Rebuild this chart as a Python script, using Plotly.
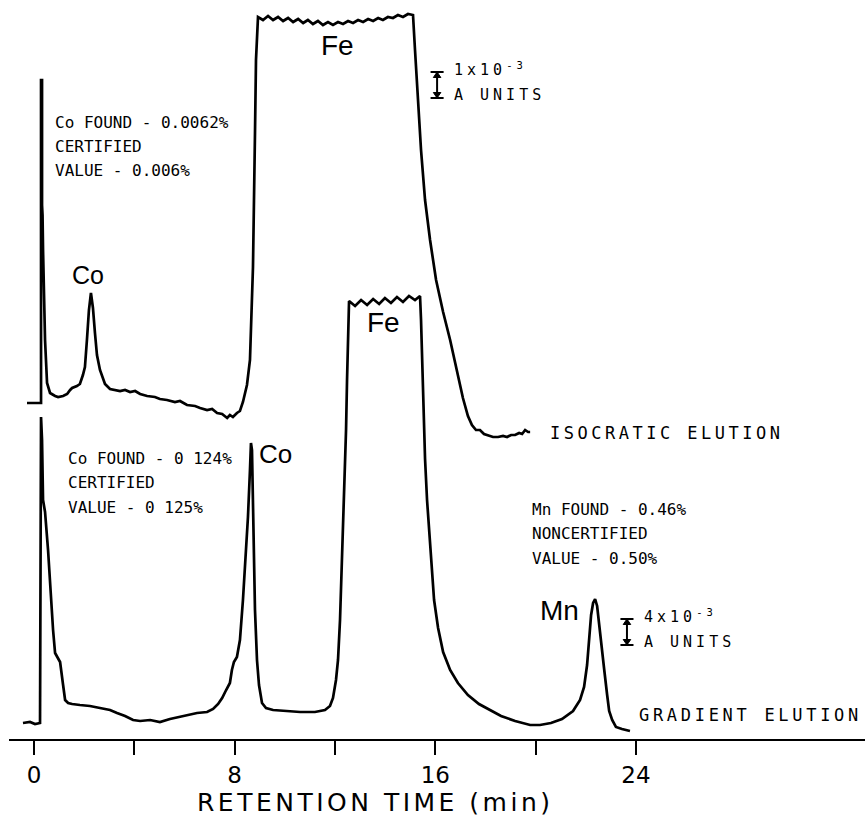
import plotly.graph_objects as go

# ---------------- data ----------------
# retention time (min) and detector signal (arbitrary chart units, offset traces)
iso_time = [-0.28, 0.24, 0.28, 0.28, 0.32, 0.32, 0.34, 0.36, 0.40, 0.44, 0.52, 0.64, 0.84, 0.96,
            1.16, 1.32, 1.44, 1.52, 1.71, 1.83, 1.95, 2.03, 2.11, 2.19, 2.27, 2.35, 2.43, 2.51,
            2.63, 2.83, 3.03, 3.23, 3.43, 3.63, 3.83, 4.03, 4.23, 4.51, 4.82, 5.02, 5.30, 5.62,
            5.82, 6.10, 6.42, 6.62, 6.90, 7.10, 7.30, 7.50, 7.70, 7.81, 7.93, 8.09, 8.21, 8.33,
            8.49, 8.61, 8.69, 8.73, 8.81, 8.85,
            8.93, 9.13, 9.33, 9.53, 9.73, 9.93, 10.13, 10.33, 10.53, 10.73, 10.92, 11.12, 11.32,
            11.52, 11.72, 11.92, 12.12, 12.32, 12.52, 12.72, 12.92, 13.12, 13.32, 13.52, 13.72,
            13.91, 14.11, 14.31, 14.51, 14.71, 14.91, 15.11,
            15.19, 15.31, 15.43, 15.59, 15.79, 16.03, 16.31, 16.59, 16.86, 17.10, 17.30, 17.46,
            17.62, 17.78, 17.94, 18.10, 18.30, 18.50, 18.70, 18.86, 19.02, 19.18, 19.34, 19.46,
            19.58, 19.70, 19.78]
iso_signal = [33.6, 33.6, 33.6, 65.9, 65.9, 53.4, 52.4, 48.9, 43.9, 39.9, 35.6, 34.6, 34.3, 34.2,
              34.3, 34.5, 34.9, 35.1, 35.3, 35.5, 36.4, 37.2, 39.9, 42.9, 44.6, 43.1, 40.6, 38.4,
              36.9, 35.5, 35.0, 34.9, 34.8, 34.9, 34.7, 34.8, 34.5, 34.3, 34.2, 34.0, 33.9, 33.7,
              33.8, 33.4, 33.3, 33.1, 32.9, 33.0, 32.6, 32.5, 32.1, 32.4, 32.2, 32.6, 32.8, 33.7,
              35.4, 37.9, 42.9, 47.2, 60.6, 67.9,
              72.2, 71.9, 72.3, 71.9, 72.2, 71.8, 72.1, 71.7, 72.0, 71.6, 71.9, 71.5, 71.8,
              71.4, 71.7, 71.4, 71.7, 71.5, 71.8, 71.6, 71.9, 71.7, 72.0, 71.8, 72.1,
              71.9, 72.2, 72.1, 72.4, 72.2, 72.5, 72.4,
              68.9, 63.9, 58.9, 53.9, 49.9, 45.9, 42.7, 39.9, 36.9, 34.1, 32.3, 31.4,
              30.9, 30.9, 30.5, 30.4, 30.2, 30.2, 30.3, 30.2, 30.4, 30.4, 30.6, 30.5,
              30.9, 30.7, 30.7]

grad_time = [-0.44, -0.16, 0.04, 0.24, 0.28, 0.32, 0.36, 0.40, 0.44, 0.56, 0.64, 0.76, 0.84, 0.96,
             1.04, 1.16, 1.24, 1.36, 1.52, 1.83, 2.23, 2.63, 3.03, 3.31, 3.63, 3.95, 4.23, 4.63,
             5.02, 5.42, 5.82, 6.10, 6.50, 6.90, 7.14, 7.34, 7.50, 7.66, 7.81, 7.89, 7.97, 8.09,
             8.21, 8.33, 8.45, 8.53, 8.61, 8.65, 8.69, 8.73, 8.77, 8.81, 8.89, 8.97, 9.09, 9.25,
             9.53, 10.01, 10.61, 11.20, 11.60, 11.80, 11.92, 12.04, 12.12, 12.20, 12.28, 12.36,
             12.44, 12.48, 12.52,
             12.56, 12.80, 13.04, 13.28, 13.52, 13.76, 13.99, 14.23, 14.47, 14.71, 14.95, 15.19, 15.39,
             15.43, 15.47, 15.55, 15.59, 15.67, 15.75, 15.83, 15.95, 16.11, 16.31, 16.59, 16.90,
             17.30, 17.74, 18.18, 18.62, 19.18, 19.78, 20.17, 20.61, 21.05, 21.49, 21.77, 21.93,
             22.05, 22.13, 22.21, 22.29, 22.37, 22.45, 22.53, 22.61, 22.73, 22.85, 22.93, 23.05,
             23.20, 23.44, 23.76]
grad_signal = [1.6, 1.7, 1.5, 1.6, 32.2, 29.9, 23.9, 23.4, 22.7, 18.9, 15.6, 10.9, 8.6, 8.1,
               7.7, 5.4, 3.9, 3.6, 3.5, 3.4, 3.3, 3.1, 2.9, 2.6, 2.3, 1.9, 1.8, 1.9,
               1.7, 2.0, 2.2, 2.4, 2.6, 2.7, 3.0, 3.5, 4.1, 4.9, 5.6, 6.9, 7.7, 8.2,
               9.9, 13.9, 18.9, 22.2, 26.9, 29.6, 28.9, 23.9, 17.9, 12.9, 7.9, 5.4, 3.6, 3.1,
               2.9, 2.8, 2.7, 2.7, 2.9, 3.3, 4.1, 5.9, 7.9, 11.9, 17.9, 24.4,
               30.9, 35.9, 40.9,
               43.8, 43.3, 43.9, 43.4, 44.0, 43.5, 44.1, 43.6, 44.2, 43.7, 44.3, 43.9, 44.3,
               41.9, 38.4, 31.9, 28.0, 23.9, 20.9, 17.4, 13.9, 11.1, 8.7, 6.9, 5.6,
               4.4, 3.5, 2.9, 2.3, 1.8, 1.4, 1.4, 1.6, 2.0, 2.8, 3.9, 5.2,
               7.4, 10.4, 12.4, 13.6, 14.0, 13.3, 11.4, 9.4, 7.0, 4.4, 2.8, 1.9,
               1.2, 1.0, 0.8]

major_ticks = [0, 8, 16, 24]
major_text = ["0", "8", "16", "24"]
minor_ticks = [4, 12, 20]
x_title = "RETENTION TIME (min)"

peak_names = ["Co", "Fe", "Co", "Fe", "Mn"]
peak_label_t = [2.15, 12.08, 9.61, 13.95, 20.97]
peak_label_s = [46.4, 69.4, 28.5, 41.7, 12.9]

iso_notes = ["Co FOUND - 0.0062%", "CERTIFIED", "VALUE - 0.006%"]
grad_co_notes = ["Co FOUND - 0 124%", "CERTIFIED", "VALUE - 0 125%"]
grad_mn_notes = ["Mn FOUND - 0.46%", "NONCERTIFIED", "VALUE - 0.50%"]

trace_names = ["ISOCRATIC ELUTION", "GRADIENT ELUTION"]
scale_texts = [("1x10<sup>-3</sup>", "A UNITS"), ("4x10<sup>-3</sup>", "A UNITS")]
# scale bars: time position, bottom, top (chart units)
scale_bar_t = [16.07, 23.64]
scale_bar_lo = [64.1, 9.4]
scale_bar_hi = [66.7, 12.0]

# ---------------- figure ----------------
MONO = "DejaVu Sans Mono"
SANS = "Liberation Sans"
fig = go.Figure()
fig.add_trace(go.Scatter(x=iso_time, y=iso_signal, mode="lines",
                         line=dict(color="black", width=2.7), hoverinfo="skip"))
fig.add_trace(go.Scatter(x=grad_time, y=grad_signal, mode="lines",
                         line=dict(color="black", width=2.7), hoverinfo="skip"))

ann = []
sizes = [25, 28, 26, 28, 28]
for name, t, s, fs in zip(peak_names, peak_label_t, peak_label_s, sizes):
    ann.append(dict(x=t, y=s, text=name, showarrow=False, xanchor="center", yanchor="middle",
                    font=dict(family=SANS, size=fs, color="black")))

def note_block(lines, t0, s0, step=2.45):
    for i, ln in enumerate(lines):
        ann.append(dict(x=t0, y=s0 - i * step, text=ln, showarrow=False,
                        xanchor="left", yanchor="middle",
                        font=dict(family=MONO, size=16, color="black")))

note_block(iso_notes, 0.76, 61.7, 2.4)
note_block(grad_co_notes, 1.28, 28.1, 2.45)
note_block(grad_mn_notes, 19.78, 23.0, 2.45)

ann.append(dict(x=20.49, y=30.6, text='<span style="letter-spacing:3.5px">' + trace_names[0] + '</span>',
                showarrow=False, xanchor="left", yanchor="middle",
                font=dict(family=MONO, size=17, color="black")))
ann.append(dict(x=24.04, y=2.4, text='<span style="letter-spacing:3.7px">' + trace_names[1] + '</span>',
                showarrow=False, xanchor="left", yanchor="middle",
                font=dict(family=MONO, size=17, color="black")))

shapes = []
HW = 0.26      # half width of the bar caps (min)
AH = 0.55      # arrowhead length (chart units)
AW = 0.15      # arrowhead half width (min)
for (l1, l2), t, lo, hi in zip(scale_texts, scale_bar_t, scale_bar_lo, scale_bar_hi):
    ann.append(dict(x=t + 0.6, y=hi + 0.3, text='<span style="letter-spacing:4px">' + l1 + '</span>',
                    showarrow=False, xanchor="left", yanchor="middle",
                    font=dict(family=MONO, size=15, color="black")))
    ann.append(dict(x=t + 0.6, y=lo + 0.35, text='<span style="letter-spacing:4px">' + l2 + '</span>',
                    showarrow=False, xanchor="left", yanchor="middle",
                    font=dict(family=MONO, size=15, color="black")))
    for yy in (lo, hi):
        shapes.append(dict(type="line", xref="x", yref="y", x0=t - HW, x1=t + HW, y0=yy, y1=yy,
                           line=dict(color="black", width=2)))
    shapes.append(dict(type="line", xref="x", yref="y", x0=t, x1=t, y0=lo, y1=hi,
                       line=dict(color="black", width=2)))
    shapes.append(dict(type="path", xref="x", yref="y",
                       path=f"M {t} {hi} L {t - AW} {hi - AH} L {t + AW} {hi - AH} Z",
                       fillcolor="black", line=dict(color="black", width=1)))
    shapes.append(dict(type="path", xref="x", yref="y",
                       path=f"M {t} {lo} L {t - AW} {lo + AH} L {t + AW} {lo + AH} Z",
                       fillcolor="black", line=dict(color="black", width=1)))

# axis title (placed relative to the plot area, below the tick labels)
ann.append(dict(x=13.6, xref="x", y=-0.0866, yref="paper",
                text='<span style="letter-spacing:3.5px">' + x_title + '</span>',
                showarrow=False, xanchor="center", yanchor="middle",
                font=dict(family="DejaVu Sans", size=25, color="black")))

fig.update_layout(
    width=865, height=820,
    margin=dict(l=9, r=0, t=0, b=81),
    paper_bgcolor="white", plot_bgcolor="white",
    showlegend=False,
    annotations=ann, shapes=shapes,
    xaxis=dict(range=[-0.997, 33.13], showgrid=False, zeroline=False,
               showline=True, linecolor="black", linewidth=2,
               ticks="outside", ticklen=14, tickwidth=2, tickcolor="black",
               tickvals=major_ticks, ticktext=major_text,
               minor=dict(tickvals=minor_ticks, ticks="outside", ticklen=14, tickwidth=2,
                          tickcolor="black", showgrid=False),
               tickfont=dict(family="DejaVu Sans", size=23, color="black")),
    yaxis=dict(range=[0, 73.9], visible=False, fixedrange=True),
)

fig.write_html("out.html")
